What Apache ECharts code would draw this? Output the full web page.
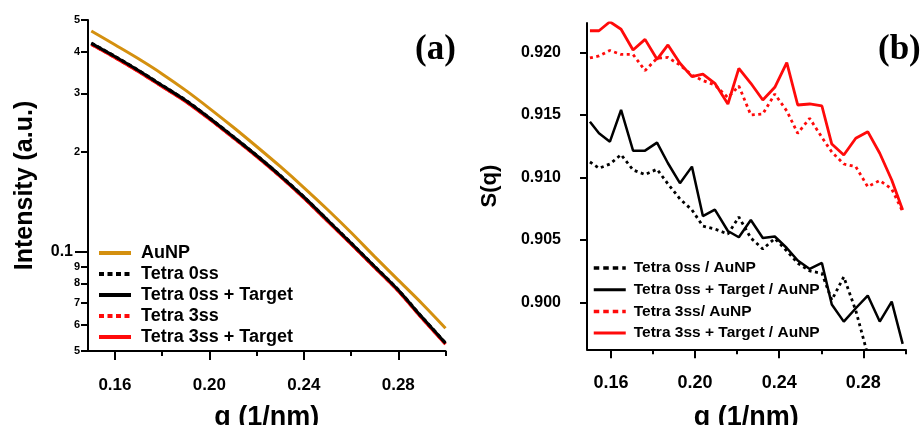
<!DOCTYPE html>
<html><head><meta charset="utf-8">
<script src="https://cdn.jsdelivr.net/npm/echarts@6/dist/echarts.min.js"></script>
<style>html,body{margin:0;padding:0;background:#fff}#c{width:921px;height:425px}</style>
</head><body><div id="c"></div>
<script>
// ---------- Panel (a): intensity vs q (log scale) ----------
const qA = [0.15,0.16,0.17,0.18,0.19,0.20,0.21,0.22,0.23,0.24,0.25,0.26,0.27,0.28,0.29,0.30];
const aunp      = [0.4632,0.4207,0.3817,0.3437,0.3064,0.2705,0.2375,0.2074,0.1805,0.1559,0.1338,0.1140,0.0964,0.0819,0.0696,0.0586];
const tetra0    = [0.4262,0.3885,0.3522,0.3176,0.2860,0.2533,0.2226,0.1951,0.1697,0.1462,0.1246,0.1061,0.0901,0.0765,0.0634,0.0529];
const tetra0T   = [0.4251,0.3879,0.3518,0.3170,0.2856,0.2529,0.2223,0.1948,0.1695,0.1460,0.1244,0.1060,0.0900,0.0764,0.0633,0.0528];
const tetra3    = [0.4222,0.3852,0.3494,0.3149,0.2837,0.2512,0.2208,0.1935,0.1684,0.1450,0.1236,0.1053,0.0894,0.0759,0.0629,0.0525];
const tetra3T   = [0.4217,0.3848,0.3490,0.3145,0.2833,0.2509,0.2205,0.1932,0.1681,0.1448,0.1234,0.1052,0.0893,0.0758,0.0628,0.0524];

// ---------- Panel (b): S(q) ----------
const qB = [0.1500,0.1543,0.1595,0.1648,0.1705,0.1762,0.1819,0.1871,0.1928,0.1985,0.2037,0.2094,0.2156,0.2208,
            0.2265,0.2322,0.2379,0.2436,0.2488,0.2545,0.2603,0.2650,0.2707,0.2764,0.2821,0.2878,0.2935,0.2987];
const s0  = [0.91124,0.91074,0.91108,0.91183,0.91060,0.91024,0.91066,0.90948,0.90828,0.90740,0.90611,0.90587,0.90547,0.90683,
             0.90515,0.90427,0.90511,0.90411,0.90313,0.90251,0.90232,0.90018,0.90203,0.89934,0.89578];
const s0T = [0.91447,0.91354,0.91287,0.91541,0.91215,0.91215,0.91279,0.91114,0.90954,0.91087,0.90691,0.90742,0.90571,0.90521,
             0.90659,0.90515,0.90527,0.90435,0.90335,0.90267,0.90315,0.89982,0.89845,0.89952,0.90054,0.89845,0.90005,0.89666];
const s3  = [0.91958,0.91974,0.92018,0.91986,0.91986,0.91857,0.91955,0.91962,0.91901,0.91821,0.91777,0.91741,0.91641,0.91733,
             0.91501,0.91509,0.91669,0.91533,0.91354,0.91474,0.91321,0.91204,0.91108,0.91087,0.90926,0.90976,0.90908,0.90726];
const s3T = [0.92176,0.92176,0.92248,0.92188,0.92022,0.92107,0.91947,0.92062,0.91915,0.91808,0.91829,0.91755,0.91589,0.91875,
             0.91755,0.91621,0.91723,0.91920,0.91581,0.91589,0.91573,0.91268,0.91180,0.91314,0.91367,0.91194,0.90980,0.90740];

// ---------- ticks ----------
const xMajorTicks = [0.16,0.20,0.24,0.28];
const xMinorTicks = [0.18,0.22,0.26,0.30];
const xTickLabels = ['0.16','0.20','0.24','0.28'];
const yTicksA = [0.05,0.06,0.07,0.08,0.09,0.1,0.2,0.3,0.4,0.5];
const yTickLabelsA = ['5','6','7','8','9','0.1','2','3','4','5'];
const yMajorA = [0.1];
const yTicksB = [0.900,0.905,0.910,0.915,0.920];
const yTickLabelsB = ['0.900','0.905','0.910','0.915','0.920'];

const FONT = 'Liberation Sans';
const ORANGE = '#D4900F', RED = '#FF0A0A', BLACK = '#000000';
const pairs = (xs, ys) => ys.map((y, i) => [xs[i], y]);
const lookup = (vals, labs) => v => { const i = vals.findIndex(t => Math.abs(t - v) < 1e-9); return i < 0 ? '' : labs[i]; };

const XMIN = 0.1486, XMAX = 0.30;
const gridA = {left: 88, top: 20, width: 357.5, height: 331, containLabel: false, outerBoundsMode: 'none'};
const gridB = {left: 587, top: 23, width: 318.4, height: 326.3, containLabel: false, outerBoundsMode: 'none'};
const axisLine = {show: true, lineStyle: {color: BLACK, width: 2}};

function majorX(gridIndex, gapName, labelSize, margin) {
  return {
    type: 'value', gridIndex, min: XMIN, max: XMAX, position: 'bottom',
    axisLine, splitLine: {show: false},
    axisTick: {show: true, length: 9, lineStyle: {color: BLACK, width: 2}, customValues: xMajorTicks},
    axisLabel: {customValues: xMajorTicks, formatter: lookup(xMajorTicks, xTickLabels), fontFamily: FONT,
      fontWeight: 'bold', fontSize: labelSize, color: BLACK, margin},
    name: 'q (1/nm)', nameLocation: 'middle', nameGap: gapName,
    nameTextStyle: {fontFamily: FONT, fontWeight: 'bold', fontSize: 27, color: BLACK}
  };
}
function minorX(gridIndex) {
  return {
    type: 'value', gridIndex, min: XMIN, max: XMAX, position: 'bottom',
    axisLine: {show: false}, splitLine: {show: false}, axisLabel: {show: false},
    axisTick: {show: true, length: 5, lineStyle: {color: BLACK, width: 2}, customValues: xMinorTicks}
  };
}
const noSymbol = {color: 'rgba(0,0,0,0)', borderWidth: 0, borderColor: 'rgba(0,0,0,0)', opacity: 0};

const option = {
  animation: false,
  backgroundColor: '#fff',
  title: [
    {text: '(a)', left: 410, top: 27, textStyle: {fontFamily: 'Liberation Serif', fontWeight: 'bold', fontSize: 35, color: BLACK}},
    {text: '(b)', left: 873, top: 27, textStyle: {fontFamily: 'Liberation Serif', fontWeight: 'bold', fontSize: 35, color: BLACK}}
  ],
  grid: [gridA, Object.assign({}, gridA), gridB, Object.assign({}, gridB)],
  xAxis: [majorX(0, 53, 17, 26), minorX(1), majorX(2, 55, 18, 25), minorX(3)],
  yAxis: [
    {type: 'log', gridIndex: 0, min: 0.05, max: 0.5, logBase: 10,
      axisLine, splitLine: {show: false}, minorTick: {show: false},
      axisTick: {show: true, length: 7, lineStyle: {color: BLACK, width: 2}, customValues: yTicksA},
      axisLabel: {customValues: yTicksA.filter(v => v !== 0.1), formatter: lookup(yTicksA, yTickLabelsA),
        fontFamily: FONT, fontWeight: 'bold', fontSize: 11, color: BLACK, margin: 8},
      name: 'Intensity (a.u.)', nameLocation: 'middle', nameGap: 50,
      nameTextStyle: {fontFamily: FONT, fontWeight: 'bold', fontSize: 25, color: BLACK}},
    {type: 'log', gridIndex: 1, min: 0.05, max: 0.5, logBase: 10,
      axisLine: {show: false}, splitLine: {show: false},
      axisTick: {show: true, length: 13, lineStyle: {color: BLACK, width: 2}, customValues: yMajorA},
      axisLabel: {customValues: yMajorA, formatter: lookup(yTicksA, yTickLabelsA),
        fontFamily: FONT, fontWeight: 'bold', fontSize: 16, color: BLACK, margin: 15}},
    {type: 'value', gridIndex: 2, min: 0.89623, max: 0.92238,
      axisLine, splitLine: {show: false},
      axisTick: {show: true, length: 7, lineStyle: {color: BLACK, width: 2}, customValues: yTicksB},
      axisLabel: {customValues: yTicksB, formatter: lookup(yTicksB, yTickLabelsB),
        fontFamily: FONT, fontWeight: 'bold', fontSize: 16, color: BLACK, margin: 26},
      name: 'S(q)', nameLocation: 'middle', nameGap: 86,
      nameTextStyle: {fontFamily: FONT, fontWeight: 'bold', fontSize: 22, color: BLACK}},
    {type: 'value', gridIndex: 3, min: 0.89623, max: 0.92238, show: false}
  ],
  legend: [
    {orient: 'vertical', left: 97, top: 244, itemWidth: 32, itemHeight: 14, itemGap: 3, padding: 0,
      selectedMode: false,
      lineStyle: {width: 4}, itemStyle: noSymbol,
      textStyle: {fontFamily: FONT, fontWeight: 'bold', fontSize: 18, lineHeight: 18, color: BLACK, padding: [0, 0, 0, 5]},
      data: [
        {name: 'AuNP'},
        {name: 'Tetra 0ss', lineStyle: {type: [5, 3.5], width: 4}},
        {name: 'Tetra 0ss + Target'},
        {name: 'Tetra 3ss', lineStyle: {type: [5, 3.5], width: 4}},
        {name: 'Tetra 3ss + Target'}
      ]},
    {orient: 'vertical', left: 592, top: 259, itemWidth: 32, itemHeight: 14, itemGap: 3.7, padding: 0,
      selectedMode: false,
      lineStyle: {width: 3}, itemStyle: noSymbol,
      textStyle: {fontFamily: FONT, fontWeight: 'bold', fontSize: 15.5, lineHeight: 18, color: BLACK, padding: [0, 0, 0, 3]},
      data: [
        {name: 'Tetra 0ss / AuNP', lineStyle: {type: [5.5, 4], width: 3.5}},
        {name: 'Tetra 0ss + Target / AuNP'},
        {name: 'Tetra 3ss/ AuNP', lineStyle: {type: [5.5, 4], width: 3.5}},
        {name: 'Tetra 3ss + Target / AuNP'}
      ]}
  ],
  series: [
    {name: 'AuNP', type: 'line', xAxisIndex: 0, yAxisIndex: 0, data: pairs(qA, aunp), smooth: 0.3, symbol: 'none',
      lineStyle: {color: ORANGE, width: 3}, itemStyle: {color: ORANGE}, z: 3},
    {name: 'Tetra 0ss', type: 'line', xAxisIndex: 0, yAxisIndex: 0, data: pairs(qA, tetra0), smooth: 0.3, symbol: 'none',
      lineStyle: {color: BLACK, width: 3, type: [4, 3]}, itemStyle: {color: BLACK}, z: 2},
    {name: 'Tetra 0ss + Target', type: 'line', xAxisIndex: 0, yAxisIndex: 0, data: pairs(qA, tetra0T), smooth: 0.3, symbol: 'none',
      lineStyle: {color: BLACK, width: 3}, itemStyle: {color: BLACK}, z: 2},
    {name: 'Tetra 3ss', type: 'line', xAxisIndex: 0, yAxisIndex: 0, data: pairs(qA, tetra3), smooth: 0.3, symbol: 'none',
      lineStyle: {color: RED, width: 3, type: [4, 3]}, itemStyle: {color: RED}, z: 1},
    {name: 'Tetra 3ss + Target', type: 'line', xAxisIndex: 0, yAxisIndex: 0, data: pairs(qA, tetra3T), smooth: 0.3, symbol: 'none',
      lineStyle: {color: RED, width: 3}, itemStyle: {color: RED}, z: 1},

    {name: 'Tetra 0ss / AuNP', type: 'line', xAxisIndex: 2, yAxisIndex: 2, data: pairs(qB, s0), symbol: 'none',
      lineStyle: {color: BLACK, width: 2.8, type: [3, 3.5]}, itemStyle: {color: BLACK}},
    {name: 'Tetra 0ss + Target / AuNP', type: 'line', xAxisIndex: 2, yAxisIndex: 2, data: pairs(qB, s0T), symbol: 'none',
      lineStyle: {color: BLACK, width: 2.5}, itemStyle: {color: BLACK}},
    {name: 'Tetra 3ss/ AuNP', type: 'line', xAxisIndex: 2, yAxisIndex: 2, data: pairs(qB, s3), symbol: 'none',
      lineStyle: {color: RED, width: 2.8, type: [3, 3.5]}, itemStyle: {color: RED}},
    {name: 'Tetra 3ss + Target / AuNP', type: 'line', xAxisIndex: 2, yAxisIndex: 2, data: pairs(qB, s3T), symbol: 'none',
      lineStyle: {color: RED, width: 2.8}, itemStyle: {color: RED}}
  ]
};
const chart = echarts.init(document.getElementById('c'), null, {renderer: 'canvas'});
chart.setOption(option);
</script></body></html>
